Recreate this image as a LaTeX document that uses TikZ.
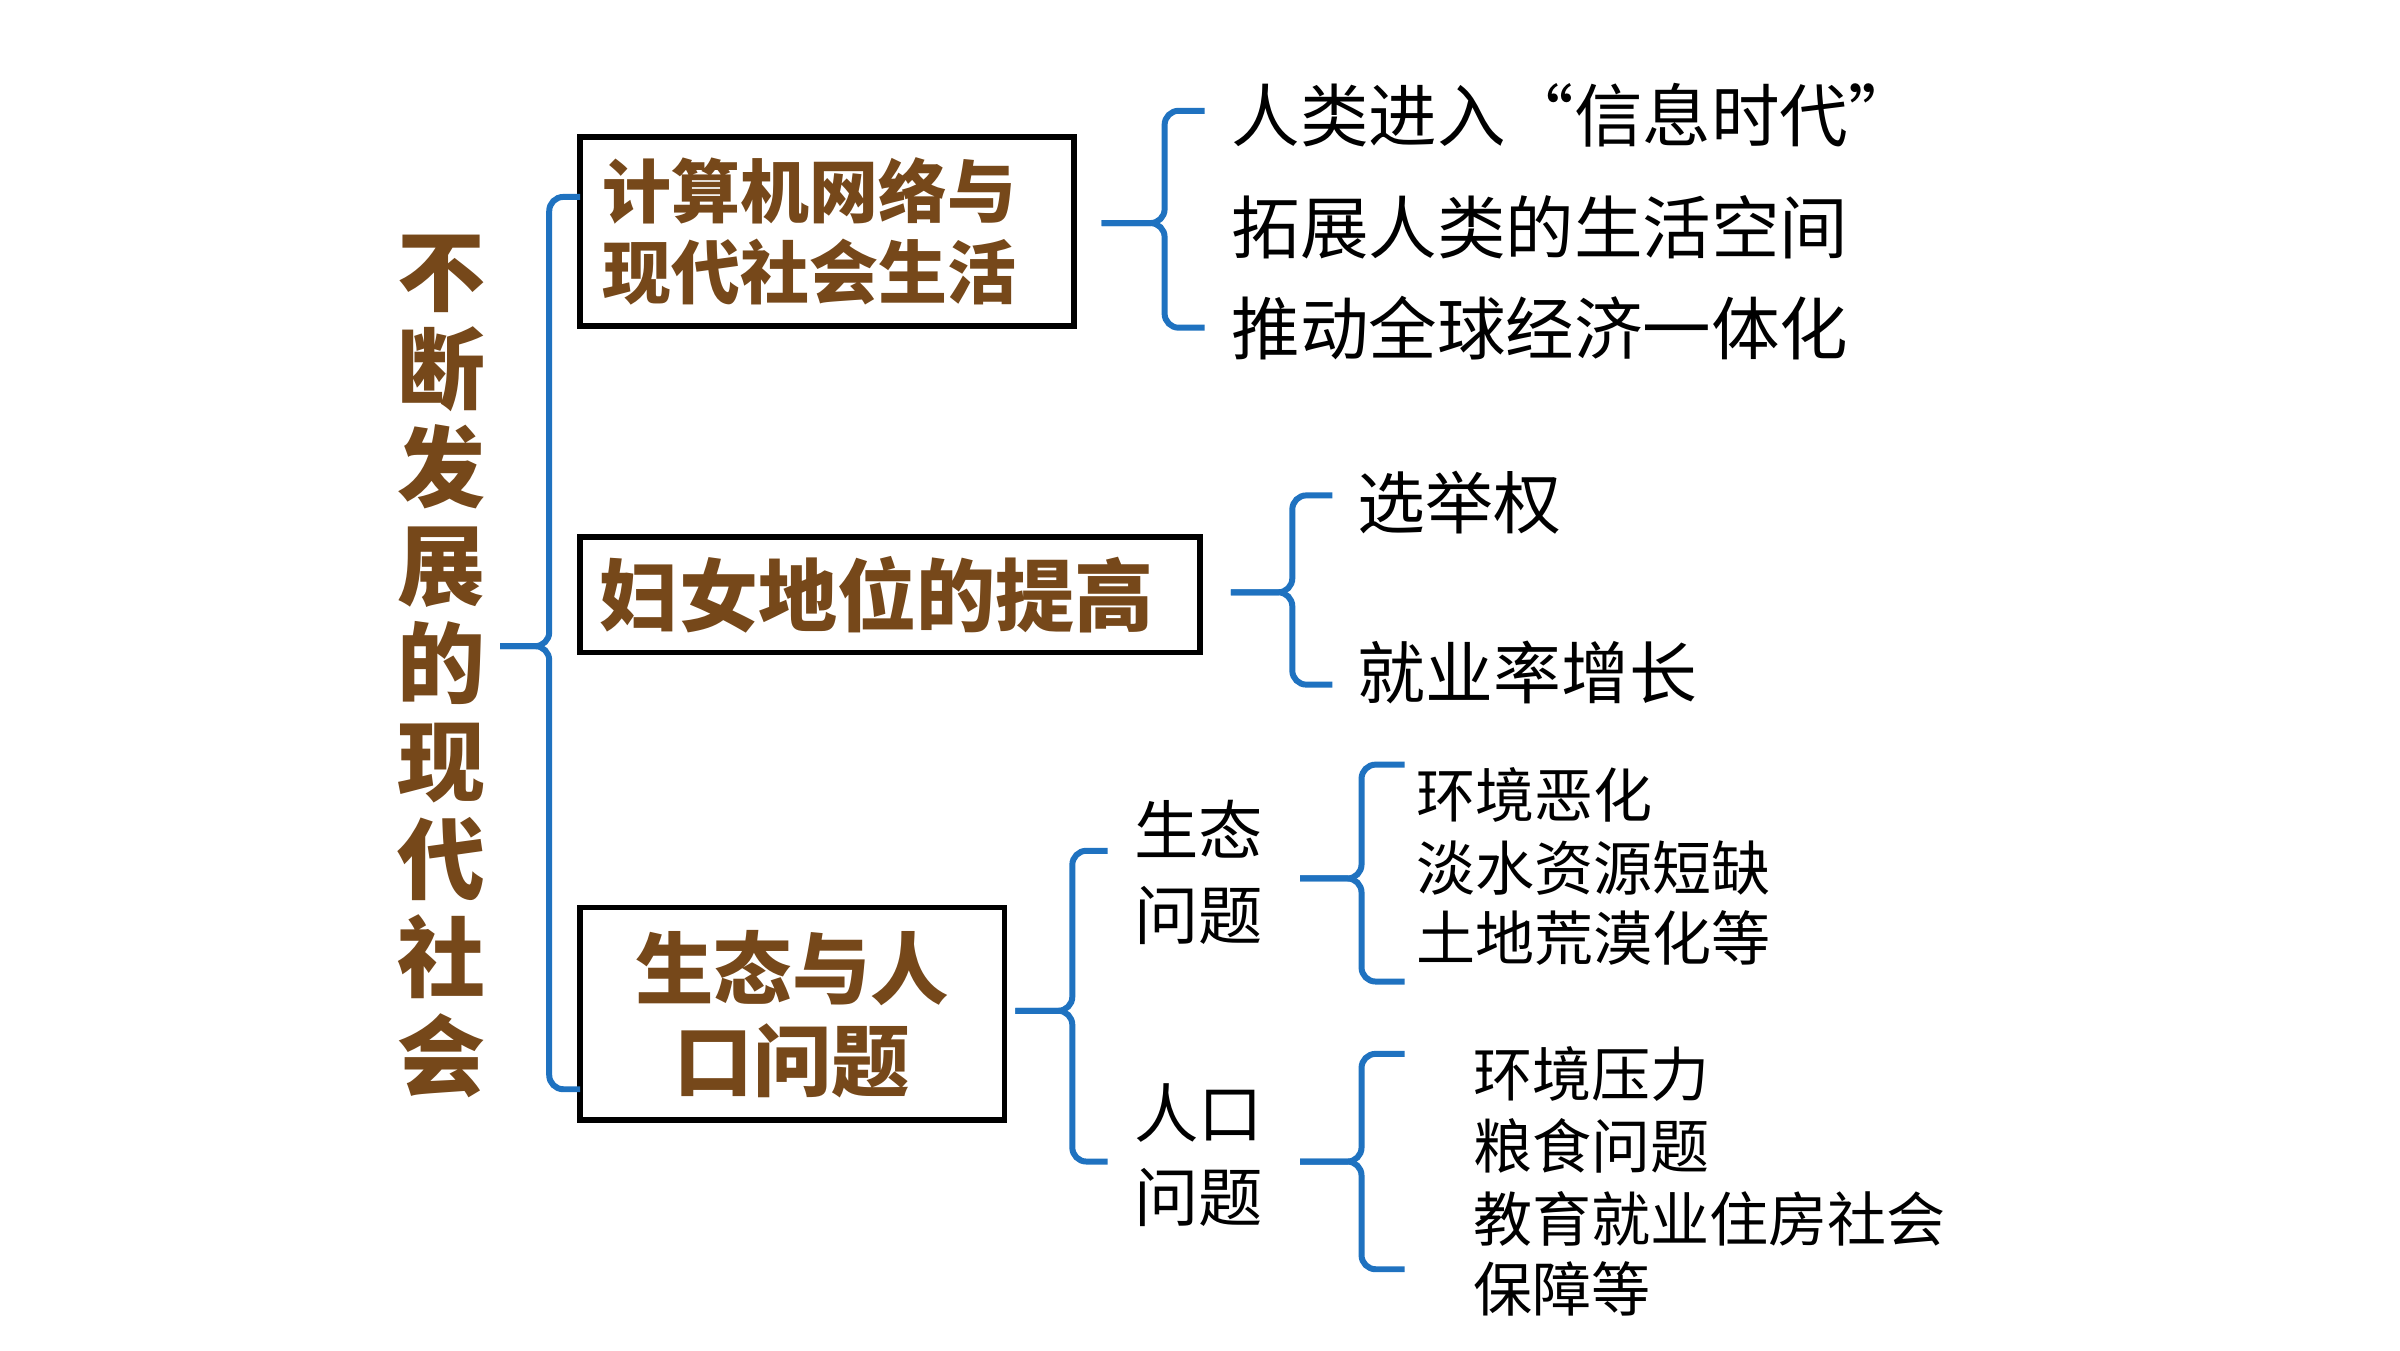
\documentclass[tikz,border=0pt]{standalone}
\usepackage{fontspec}
\usepackage{xcolor}
\newfontfamily\cjk{Noto Sans CJK SC}
\definecolor{braceblue}{RGB}{31,114,192}
\definecolor{titlebrown}{RGB}{118,72,26}

\begin{document}
\begin{tikzpicture}[x=0.015385cm, y=-0.015385cm,
    brace/.style={draw=braceblue, line width=1.7pt, rounded corners=4pt},
    box/.style={draw=black, line width=1.6pt, inner sep=0pt},
    brown/.style={text=titlebrown, font=\cjk\bfseries},
    item/.style={anchor=west, inner sep=0pt}]
        \useasboundingbox[fill=white] (0,0) rectangle (1560,877.5);
        % title and the three boxes
        \node[brown, inner sep=0pt, align=center, font=\cjk\bfseries\fontsize{25pt}{27.9pt}\selectfont] (title) at (287,433)
            {不\\断\\发\\展\\的\\现\\代\\社\\会};
        \node[box, brown, text width=4.48cm, inner xsep=0.23cm, minimum height=1.89cm, align=left,
            font=\cjk\bfseries\fontsize{19.6pt}{23.1pt}\selectfont] (net) at (537.5,150.5)
            {计算机网络与\\现代社会生活};
        \node[box, brown, text width=5.8cm, inner xsep=0.2cm, minimum height=1.154cm, align=left,
            font=\cjk\bfseries\fontsize{22.5pt}{27pt}\selectfont] (women) at (578.5,386.5)
            {妇女地位的提高};
        \node[box, brown, minimum width=4.246cm, minimum height=2.123cm, align=center,
            font=\cjk\bfseries\fontsize{22.3pt}{26.2pt}\selectfont] (eco) at (515,659)
            {生态与人\\口问题};
        % main brace
        \coordinate (mtip) at (325,420);
        \draw[brace] (mtip) -- (357,420) -- (357,128) -- (377,128);
        \draw[brace] (mtip) -- (357,420) -- (357,708) -- (377,708);
        % first group
        \node[item, font=\cjk\fontsize{19.5pt}{23pt}\selectfont] (info) at (800,75) {人类进入“信息时代”};
        \node[item, font=\cjk\fontsize{19.5pt}{23pt}\selectfont] (space) at (800,148) {拓展人类的生活空间};
        \node[item, font=\cjk\fontsize{19.5pt}{23pt}\selectfont] (econ) at (800,213) {推动全球经济一体化};
        \coordinate (atip) at (716,145);
        \draw[brace] (atip) -- (757,145) -- (757,72) -- (783,72);
        \draw[brace] (atip) -- (757,145) -- (757,213) -- (783,213);
        % second group
        \node[item, font=\cjk\fontsize{19.3pt}{23pt}\selectfont] (vote) at (882,327) {选举权};
        \node[item, font=\cjk\fontsize{19.3pt}{23pt}\selectfont] (job) at (882,437) {就业率增长};
        \coordinate (btip) at (800,385);
        \draw[brace] (btip) -- (840,385) -- (840,322) -- (866,322);
        \draw[brace] (btip) -- (840,385) -- (840,445) -- (866,445);
        % third group
        \node[item, align=left, font=\cjk\fontsize{18.3pt}{24pt}\selectfont] (ecoq) at (737,567) {生态\\问题};
        \node[item, align=left, font=\cjk\fontsize{18.3pt}{24pt}\selectfont] (popq) at (737,751) {人口\\问题};
        \coordinate (ctip) at (660,657);
        \draw[brace] (ctip) -- (697,657) -- (697,553) -- (720,553);
        \draw[brace] (ctip) -- (697,657) -- (697,755) -- (720,755);
        % ecology items
        \node[item, font=\cjk\fontsize{16.8pt}{20pt}\selectfont] (env) at (920,517) {环境恶化};
        \node[item, font=\cjk\fontsize{16.8pt}{20pt}\selectfont] (water) at (920,564) {淡水资源短缺};
        \node[item, font=\cjk\fontsize{16.8pt}{20pt}\selectfont] (land) at (920,610) {土地荒漠化等};
        \coordinate (dtip) at (845,571);
        \draw[brace] (dtip) -- (885,571) -- (885,497) -- (913,497);
        \draw[brace] (dtip) -- (885,571) -- (885,638) -- (913,638);
        % population items
        \node[item, font=\cjk\fontsize{16.8pt}{20pt}\selectfont] (press) at (957,698) {环境压力};
        \node[item, font=\cjk\fontsize{16.8pt}{20pt}\selectfont] (food) at (957,745) {粮食问题};
        \node[item, font=\cjk\fontsize{16.8pt}{20pt}\selectfont] (edu) at (957,792) {教育就业住房社会};
        \node[item, font=\cjk\fontsize{16.8pt}{20pt}\selectfont] (care) at (957,838) {保障等};
        \coordinate (etip) at (845,755);
        \draw[brace] (etip) -- (885,755) -- (885,685) -- (913,685);
        \draw[brace] (etip) -- (885,755) -- (885,825) -- (913,825);
\end{tikzpicture}
\end{document}
